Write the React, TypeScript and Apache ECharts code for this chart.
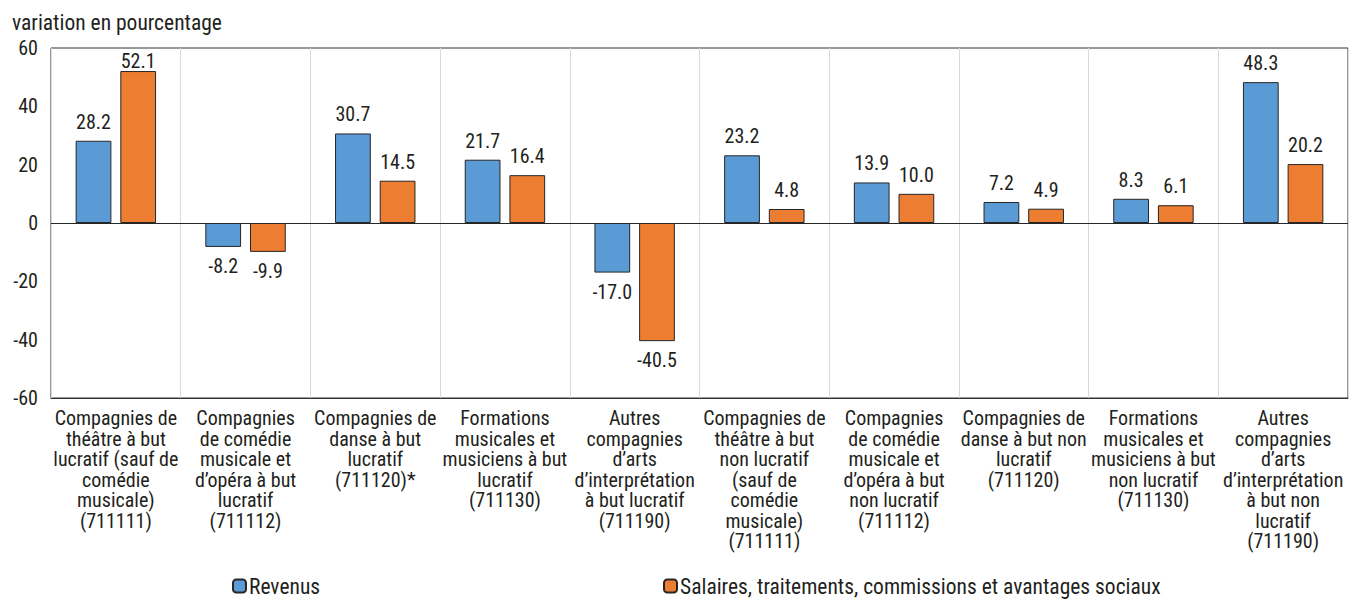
import React, { useEffect, useRef } from "react";
import * as echarts from "echarts";

const categories = [
  "Compagnies de\nthéâtre à but\nlucratif (sauf de\ncomédie\nmusicale)\n(711111)",
  "Compagnies\nde comédie\nmusicale et\nd’opéra à but\nlucratif\n(711112)",
  "Compagnies de\ndanse à but\nlucratif\n(711120)*",
  "Formations\nmusicales et\nmusiciens à but\nlucratif\n(711130)",
  "Autres\ncompagnies\nd’arts\nd’interprétation\nà but lucratif\n(711190)",
  "Compagnies de\nthéâtre à but\nnon lucratif\n(sauf de\ncomédie\nmusicale)\n(711111)",
  "Compagnies\nde comédie\nmusicale et\nd’opéra à but\nnon lucratif\n(711112)",
  "Compagnies de\ndanse à but non\nlucratif\n(711120)",
  "Formations\nmusicales et\nmusiciens à but\nnon lucratif\n(711130)",
  "Autres\ncompagnies\nd’arts\nd’interprétation\nà but non\nlucratif\n(711190)",
];
const revenus = [28.2, -8.2, 30.7, 21.7, -17.0, 23.2, 13.9, 7.2, 8.3, 48.3];
const salaires = [52.1, -9.9, 14.5, 16.4, -40.5, 4.8, 10.0, 4.9, 6.1, 20.2];
const seriesNames = ["Revenus", "Salaires, traitements, commissions et avantages sociaux"];
const yTitle = "variation en pourcentage";
const Y_MIN = -60;
const Y_MAX = 60;
const Y_STEP = 20;

const FONT = "'Liberation Sans Narrow', 'Arial Narrow', 'Roboto Condensed', 'Liberation Sans', sans-serif";
const TXT = "#231f20";

function toData(values: number[]) {
  // labels stay inside the plot area when the bar nearly reaches the top
  return values.map((v) => ({
    value: v,
    label: { distance: v > Y_MAX - 10 ? 0 : 9 },
  }));
}

export default function App() {
  const ref = useRef<HTMLDivElement>(null);
  useEffect(() => {
    if (!ref.current) return;
    const chart = echarts.init(ref.current, undefined, { renderer: "svg" });
    const label = {
      show: true,
      position: "outside" as any,
      distance: 9,
      fontFamily: FONT,
      fontSize: 20,
      color: TXT,
      formatter: (p: any) => Number(p.value).toFixed(1),
    };
    const legendText = {
      fontFamily: FONT,
      fontSize: 21.5,
      lineHeight: 22,
      color: TXT,
      padding: [0, 0, 0, -2],
    };
    chart.setOption({
      animation: false,
      textStyle: { fontFamily: FONT },
      title: {
        text: yTitle,
        left: 7,
        top: 6,
        textStyle: { fontFamily: FONT, fontSize: 21.5, fontWeight: "normal", color: TXT },
      },
      legend: [
        {
          data: [seriesNames[0]],
          left: 232,
          top: 575,
          padding: 0,
          itemWidth: 13,
          itemHeight: 13,
          itemGap: 4,
          textStyle: legendText,
        },
        {
          data: [seriesNames[1]],
          left: 663,
          top: 575,
          padding: 0,
          itemWidth: 13,
          itemHeight: 13,
          itemGap: 4,
          textStyle: legendText,
        },
      ],
      grid: {
        left: 51,
        right: 13,
        top: 48,
        bottom: 202,
        show: true,
        borderColor: "#333",
        borderWidth: 1,
        backgroundColor: "transparent",
      },
      xAxis: {
        type: "category",
        data: categories,
        axisLine: { show: true, onZero: false, lineStyle: { color: "#333" } },
        axisTick: { show: false },
        splitLine: { show: true, lineStyle: { color: "#d9d9d9", width: 1 } },
        axisLabel: {
          interval: 0,
          margin: 10,
          fontFamily: FONT,
          fontSize: 20,
          lineHeight: 20.5,
          color: TXT,
          align: "center",
        },
      },
      yAxis: {
        type: "value",
        min: Y_MIN,
        max: Y_MAX,
        interval: Y_STEP,
        axisLine: { show: false },
        axisTick: { show: false },
        splitLine: { show: false },
        axisLabel: { fontFamily: FONT, fontSize: 20, color: TXT, margin: 13 },
      },
      series: [
        {
          name: seriesNames[0],
          type: "bar",
          data: toData(revenus),
          barGap: "25%",
          barCategoryGap: "38%",
          itemStyle: { color: "#5b9bd5", borderColor: "#262626", borderWidth: 1 },
          label,
          markLine: {
            silent: true,
            symbol: "none",
            label: { show: false },
            lineStyle: { color: "#262626", width: 1, type: "solid" },
            data: [{ yAxis: 0 }],
          },
        },
        {
          name: seriesNames[1],
          type: "bar",
          data: toData(salaires),
          barGap: "25%",
          barCategoryGap: "38%",
          itemStyle: { color: "#ed7d31", borderColor: "#262626", borderWidth: 1 },
          label,
        },
      ],
    });
    return () => chart.dispose();
  }, []);
  return (
    <div
      ref={ref}
      style={{ position: "absolute", left: 0, top: 0, width: 1361, height: 600 }}
    />
  );
}
